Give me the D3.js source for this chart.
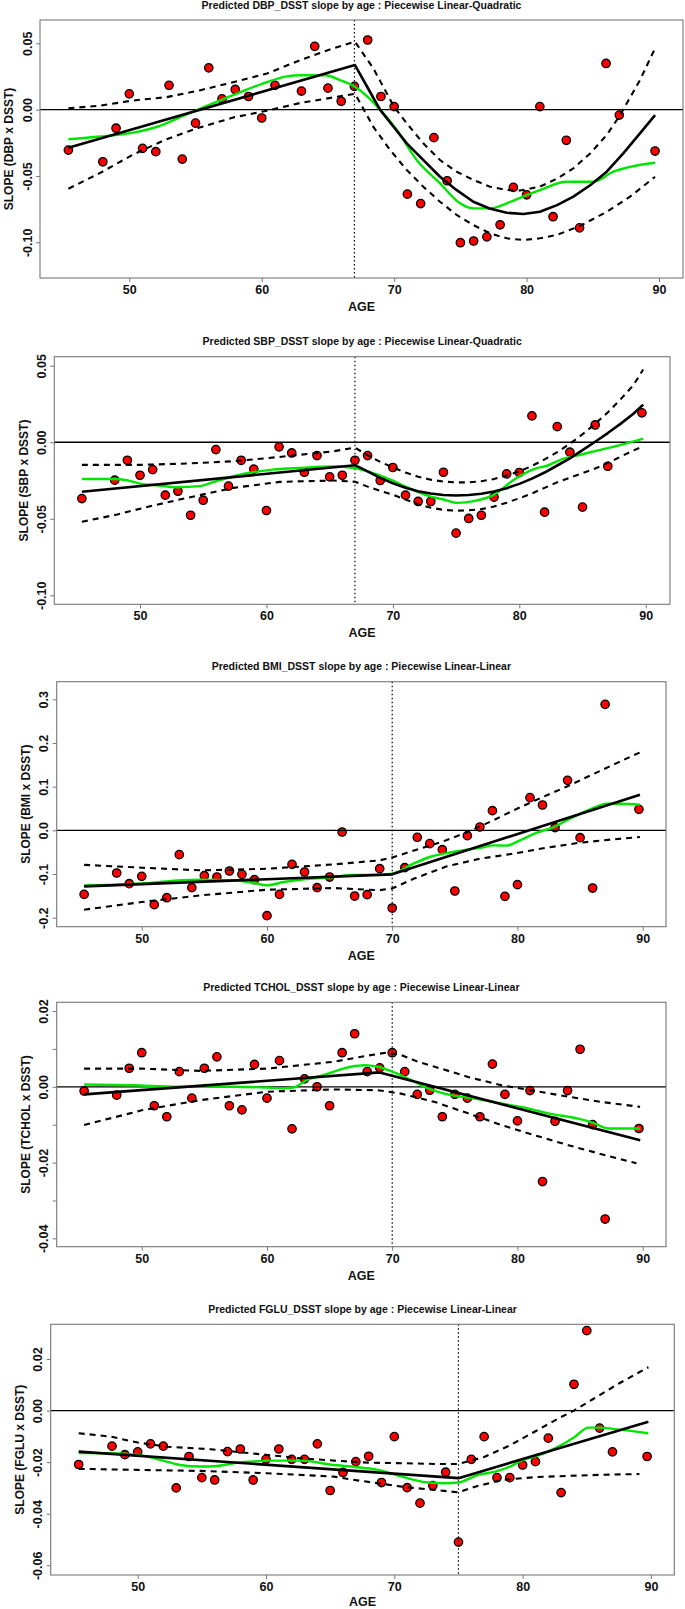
<!DOCTYPE html>
<html><head><meta charset="utf-8">
<script src="https://cdn.jsdelivr.net/npm/d3@7"></script>
<style>
body{margin:0;background:#fff}
svg{display:block}
text{font-family:"Liberation Sans",Arial,sans-serif;font-weight:bold;fill:#111}
</style>
</head><body>
<svg id="c" width="685" height="1609"></svg>
<script>
// ---------------- DATA ----------------
const AGES = [45.4,48,49,50,51,52,53,54,55,56,57,58,59,60,61,62,63,64,65,66,67,68,69,70,71,72,73,74,75,76,77,78,79,80,81,82,83,84,85,86,87,89.7];
const X_TICKS = [50,60,70,80,90];
const X_TICK_LABELS = ["50","60","70","80","90"];

// Panel 1: DBP
const dbpSlope = [-0.0305,-0.0393,-0.014,0.0119,-0.0292,-0.0317,0.0183,-0.0373,-0.0102,0.0315,0.0081,0.0152,0.0099,-0.0063,0.0183,null,0.014,0.0477,0.0162,0.0063,0.0175,0.0525,0.0099,0.0023,-0.0637,-0.0708,-0.0211,-0.0536,-0.1003,-0.099,-0.0959,-0.0868,-0.0586,-0.0642,0.0023,-0.0807,-0.0231,-0.0891,null,0.0348,-0.0041,-0.0312];
const dbpFit = [[45.4,-0.0287],[67.04,0.0336],[68,0.0165],[68.93,0.0],[70,-0.0135],[70.95,-0.0254],[72,-0.036],[73.46,-0.0506],[74.7,-0.0605],[75.98,-0.0694],[77.2,-0.0745],[78.5,-0.0777],[79.76,-0.0787],[81,-0.077],[82.3,-0.072],[83.53,-0.0656],[84.8,-0.057],[86.05,-0.0468],[87.3,-0.033],[88.56,-0.0179],[89.7,-0.0041]];
const dbpUpper = [[45.4,0.001],[47.8,0.003],[50.3,0.0069],[52.8,0.0094],[55.3,0.0145],[57.9,0.0208],[60.4,0.0272],[62.9,0.0373],[65.4,0.0462],[67.04,0.0512],[68.43,0.031],[70,0.002],[70.95,-0.0103],[72.2,-0.0254],[73.46,-0.038],[74.72,-0.0468],[75.98,-0.053],[77.24,-0.0581],[78.5,-0.0606],[79.5,-0.061],[81,-0.0581],[82.3,-0.052],[83.53,-0.0443],[84.8,-0.033],[86.05,-0.0191],[87.06,-0.0041],[88.56,0.0223],[89.7,0.0462]];
const dbpLower = [[45.4,-0.0596],[47.8,-0.0477],[50.3,-0.0338],[52.8,-0.0223],[55.3,-0.0135],[57.9,-0.0058],[60.4,-0.0008],[62.9,0.005],[65.4,0.0092],[67.04,0.012],[68.43,-0.013],[69.7,-0.0305],[70.95,-0.0455],[72.2,-0.0581],[73.46,-0.0694],[74.72,-0.0794],[75.98,-0.087],[77.24,-0.0932],[78.5,-0.097],[79.76,-0.0983],[81,-0.097],[82.27,-0.0945],[84.03,-0.0877],[86.05,-0.077],[87.81,-0.0656],[89.7,-0.0506]];
const dbpLoess = [[45.4,-0.0223],[47.8,-0.0203],[50.3,-0.0173],[52.1,-0.0129],[54.1,-0.0046],[55.3,0.0005],[56.85,0.0069],[58.4,0.0132],[60.4,0.0208],[61.9,0.0251],[62.9,0.0259],[64.8,0.0259],[65.9,0.0223],[67.04,0.0173],[68.0,0.0097],[68.93,0.0],[70.2,-0.0154],[71.7,-0.038],[73.46,-0.0556],[74.97,-0.0706],[75.98,-0.0744],[77.24,-0.0744],[78.5,-0.0706],[80.0,-0.0644],[81.01,-0.0606],[83.03,-0.0543],[85.04,-0.0543],[86.55,-0.0468],[89.7,-0.04]];
const dbpYTicks = [0.05,0,-0.05,-0.1];
const dbpYLabels = ["0.05","0.00","-0.05","-0.10"];

// Panel 2: SBP
const sbpSlope = [-0.0368,-0.0248,-0.0118,-0.0216,-0.0179,-0.0346,-0.032,-0.0477,-0.0379,-0.0048,-0.0287,-0.0118,-0.0176,-0.0446,-0.003,-0.007,-0.0196,-0.0087,-0.0226,-0.0216,-0.0118,-0.0087,-0.025,-0.0165,-0.0346,-0.0387,-0.0387,-0.0196,-0.0594,-0.0498,-0.0477,-0.0359,-0.0207,-0.0198,0.0172,-0.0457,0.0102,-0.0065,-0.0424,0.0113,-0.0157,0.0192];
const sbpFit = [[45.4,-0.0324],[67,-0.015],[68,-0.019],[69,-0.0233],[70,-0.0268],[71,-0.0298],[72,-0.032],[73,-0.0335],[74,-0.0345],[75,-0.0348],[76,-0.0345],[77,-0.0337],[78,-0.0322],[79,-0.03],[80,-0.0272],[81,-0.0238],[82,-0.0198],[83,-0.0152],[84,-0.0105],[85,-0.0052],[86,0.0003],[87,0.006],[88,0.012],[89,0.0185],[89.8,0.0246]];
const sbpUpper = [[45.4,-0.0148],[50,-0.0148],[53.7,-0.0139],[57.4,-0.0124],[61.05,-0.0096],[65.3,-0.0059],[67,-0.0035],[68,-0.0085],[69,-0.0128],[70,-0.0165],[71,-0.0198],[72,-0.0225],[73,-0.0245],[74,-0.0257],[75,-0.0262],[76,-0.0262],[77,-0.0255],[78,-0.024],[79,-0.0218],[80,-0.019],[81,-0.0155],[82,-0.0112],[83,-0.0065],[84,-0.001],[85,0.0052],[86,0.012],[87,0.0195],[88,0.028],[89,0.037],[89.8,0.0475]];
const sbpLower = [[45.4,-0.052],[48.2,-0.0472],[50.8,-0.0418],[53.7,-0.0364],[57.4,-0.0298],[61.05,-0.0259],[65.3,-0.025],[67,-0.0258],[68,-0.029],[69,-0.0318],[70,-0.0342],[71,-0.0375],[72,-0.0405],[73,-0.0428],[74,-0.0442],[75,-0.0447],[76,-0.0445],[77,-0.0437],[78,-0.042],[79,-0.0395],[80,-0.0366],[81,-0.0335],[82,-0.0298],[83,-0.0262],[84,-0.0232],[85,-0.0202],[86,-0.0172],[87,-0.0135],[88,-0.0095],[89,-0.0055],[89.8,-0.0026]];
const sbpLoess = [[45.4,-0.024],[47.9,-0.024],[48.95,-0.0248],[50,-0.027],[51.3,-0.0281],[52.9,-0.0294],[54.7,-0.0287],[55.8,-0.0261],[57.4,-0.0222],[58.9,-0.0196],[60.5,-0.0179],[62.6,-0.0168],[65.3,-0.0159],[66.92,-0.0168],[67.93,-0.0189],[70,-0.025],[71,-0.029],[73,-0.0355],[74.0,-0.0374],[75.1,-0.0396],[76.4,-0.0385],[78.0,-0.0342],[79.6,-0.0244],[81.2,-0.0174],[82.25,-0.0152],[83.3,-0.0113],[84.9,-0.008],[86.5,-0.0048],[88.1,-0.0015],[89.8,0.0024]];
const sbpYTicks = [0.05,0,-0.05,-0.1];
const sbpYLabels = ["0.05","0.00","-0.05","-0.10"];

// Panel 3: BMI
const bmiSlope = [-0.1466,-0.0977,-0.1221,-0.1053,-0.1702,-0.1542,-0.0557,-0.1313,-0.1038,-0.1069,-0.0931,-0.1008,-0.113,-0.1954,-0.1466,-0.0779,-0.0954,-0.1313,-0.1069,-0.0038,-0.1504,-0.1473,-0.0878,-0.1779,-0.0855,-0.016,-0.0305,-0.0443,-0.1389,-0.0122,0.0076,0.045,-0.1511,-0.1244,0.0748,0.058,0.0061,0.1145,-0.0168,-0.1321,0.2885,0.0481];
const bmiFit = [[45.4,-0.1282],[70,-0.1007],[89.78,0.0817]];
const bmiUpper = [[45.4,-0.079],[50,-0.0855],[54.7,-0.0916],[60,-0.088],[65.3,-0.078],[69,-0.0687],[70,-0.062],[72,-0.044],[74,-0.026],[76,-0.004],[78,0.022],[80,0.05],[82,0.076],[84,0.101],[86,0.128],[88,0.155],[89.75,0.178]];
const bmiLower = [[45.4,-0.1817],[50,-0.1641],[54.7,-0.1489],[60,-0.1359],[65.3,-0.1321],[69,-0.137],[70,-0.133],[71.7,-0.111],[74.35,-0.0825],[77,-0.065],[79.67,-0.0534],[82.33,-0.0397],[85,-0.0282],[87.65,-0.0206],[89.78,-0.0153]];
const bmiLoess = [[45.4,-0.126],[48,-0.1244],[50.67,-0.1206],[52.8,-0.1145],[54.67,-0.113],[57.33,-0.1145],[58.93,-0.1206],[60,-0.126],[61.33,-0.1183],[62.67,-0.113],[65.33,-0.1069],[66.67,-0.102],[68.5,-0.102],[70,-0.099],[71.7,-0.0763],[73.0,-0.061],[74.35,-0.052],[75.95,-0.0443],[77,-0.04],[78.1,-0.0343],[79.1,-0.035],[80.2,-0.0229],[81.5,-0.006],[82.9,0.0076],[84.2,0.0267],[85.6,0.0458],[87.2,0.061],[88.3,0.061],[89.78,0.0588]];
const bmiYTicks = [0.3,0.2,0.1,0,-0.1,-0.2];
const bmiYLabels = ["0.3","0.2","0.1","0.0","-0.1","-0.2"];

// Panel 4: TCHOL
const tcholSlope = [-0.0011,-0.0022,0.0049,0.009,-0.005,-0.0079,0.004,-0.003,0.0049,0.0079,-0.005,-0.0061,0.0059,-0.003,0.0069,-0.0111,0.0021,0.0,-0.005,0.009,0.014,0.004,0.005,0.009,0.004,-0.002,-0.0009,-0.0079,-0.002,-0.003,-0.0079,0.006,-0.002,-0.009,-0.001,-0.025,-0.0091,-0.001,0.0099,-0.01,-0.0349,-0.011];
const tcholFit = [[45.4,-0.002],[69,0.0038],[89.8,-0.0141]];
const tcholUpper = [[45.4,0.0048],[50,0.0048],[54.7,0.0042],[60,0.0048],[65.3,0.0066],[68,0.0082],[69.5,0.009],[70.72,0.0084],[72.05,0.0066],[73.39,0.0053],[76.05,0.0026],[78.72,0.0004],[81.39,-0.0011],[84.05,-0.0026],[86.72,-0.004],[89.79,-0.0053]];
const tcholLower = [[45.4,-0.0101],[50,-0.0062],[54.7,-0.0035],[60,-0.0013],[65.3,-0.0007],[68.85,-0.0009],[70.7,-0.0018],[73.4,-0.004],[76.05,-0.007],[78.72,-0.0101],[81.39,-0.0128],[84.05,-0.0154],[86.72,-0.0178],[89.5,-0.0202]];
const tcholLoess = [[45.4,0.0006],[49.3,0.0004],[52.8,0.0],[57.3,0.0],[60,-0.0002],[61.3,-0.0004],[62.1,-0.0002],[63.2,0.0018],[64.5,0.0031],[66.7,0.0053],[67.8,0.0057],[68.85,0.0053],[70,0.004],[71.5,0.0018],[72.85,-0.0004],[74.7,-0.0022],[76.6,-0.0031],[78.7,-0.0044],[80.85,-0.0057],[82.45,-0.007],[84.85,-0.0084],[86.05,-0.0095],[87.25,-0.011],[89.8,-0.011]];
const tcholYTicks = [0.02,0.01,0,-0.01,-0.02,-0.03,-0.04];
const tcholYLabels = ["0.02","","0.00","","-0.02","","-0.04"];

// Panel 5: FGLU
const fgluSlope = [-0.0209,-0.0138,-0.0171,-0.016,-0.0129,-0.0138,-0.03,-0.0178,-0.026,-0.0269,-0.0159,-0.0149,-0.0269,-0.0189,-0.0149,-0.0189,-0.0189,-0.0129,-0.031,-0.024,-0.0198,-0.0177,-0.0279,-0.0101,-0.0299,-0.0359,-0.0291,-0.0239,-0.051,-0.0189,-0.0101,-0.026,-0.026,-0.0211,-0.0198,-0.0107,-0.0318,0.0102,0.031,-0.0068,-0.016,-0.0178];
const fgluFit = [[45.4,-0.0159],[75,-0.0262],[89.8,-0.0043]];
const fgluUpper = [[45.4,-0.0088],[47.9,-0.0101],[50,-0.0124],[52.3,-0.014],[55.7,-0.015],[60.1,-0.0172],[62.7,-0.0185],[65.3,-0.0194],[68,-0.0202],[70.6,-0.0204],[73.2,-0.0207],[75,-0.0207],[77,-0.018],[79,-0.0135],[81,-0.008],[83,-0.0025],[84,0.0],[85.5,0.0045],[87.5,0.0105],[89.8,0.0168]];
const fgluLower = [[45.4,-0.0226],[50,-0.023],[54.9,-0.0234],[60.1,-0.0243],[65.3,-0.0256],[66.9,-0.0269],[70.6,-0.0295],[73.2,-0.0308],[75,-0.0317],[76.3,-0.0295],[78.4,-0.0269],[81,-0.0258],[83.6,-0.0253],[86.2,-0.0249],[89.1,-0.0246]];
const fgluLoess = [[45.4,-0.0165],[48,-0.0165],[50,-0.0172],[51.74,-0.0191],[53.3,-0.0211],[54.87,-0.0217],[56.17,-0.0215],[57.47,-0.0204],[58.78,-0.0198],[60.08,-0.0194],[62.68,-0.0194],[65.29,-0.0211],[66.59,-0.0217],[68.75,-0.023],[70.57,-0.0256],[72.65,-0.0279],[73.95,-0.0282],[74.99,-0.0279],[76.55,-0.0249],[77.84,-0.0237],[79.01,-0.0217],[80.05,-0.0191],[80.96,-0.0178],[82.0,-0.0159],[83.04,-0.0133],[84.08,-0.0101],[85.12,-0.0066],[85.9,-0.0066],[87.71,-0.0075],[89.79,-0.0088]];
const fgluYTicks = [0.02,0,-0.02,-0.04,-0.06];
const fgluYLabels = ["0.02","0.00","-0.02","-0.04","-0.06"];

// ---------------- LAYOUT ----------------
const PANELS = [
  {title:"Predicted DBP_DSST slope by age : Piecewise Linear-Quadratic", ylab:"SLOPE (DBP x DSST)",
   y:dbpSlope, fit:dbpFit, upper:dbpUpper, lower:dbpLower, loess:dbpLoess, knot:67, yTicks:dbpYTicks, yLabels:dbpYLabels,
   box:{l:40,t:20,r:683,b:278}, xDom:[43.256,91.81], yDom:[-0.1269,0.06756]},
  {title:"Predicted SBP_DSST slope by age : Piecewise Linear-Quadratic", ylab:"SLOPE (SBP x DSST)",
   y:sbpSlope, fit:sbpFit, upper:sbpUpper, lower:sbpLower, loess:sbpLoess, knot:67, yTicks:sbpYTicks, yLabels:sbpYLabels,
   box:{l:54.3,t:356.7,r:670,b:604.3}, xDom:[43.22,91.92], yDom:[-0.1059,0.0559]},
  {title:"Predicted BMI_DSST slope by age : Piecewise Linear-Linear", ylab:"SLOPE (BMI x DSST)",
   y:bmiSlope, fit:bmiFit, upper:bmiUpper, lower:bmiLower, loess:bmiLoess, knot:70, yTicks:bmiYTicks, yLabels:bmiYLabels,
   box:{l:56.7,t:681.7,r:666,b:926.7}, xDom:[43.21,91.86], yDom:[-0.2206,0.3403]},
  {title:"Predicted TCHOL_DSST slope by age : Piecewise Linear-Linear", ylab:"SLOPE (TCHOL x DSST)",
   y:tcholSlope, fit:tcholFit, upper:tcholUpper, lower:tcholLower, loess:tcholLoess, knot:70, yTicks:tcholYTicks, yLabels:tcholYLabels,
   box:{l:56.7,t:1002.3,r:666,b:1246.7}, xDom:[43.21,91.86], yDom:[-0.0422,0.0223]},
  {title:"Predicted FGLU_DSST slope by age : Piecewise Linear-Linear", ylab:"SLOPE (FGLU x DSST)",
   y:fgluSlope, fit:fgluFit, upper:fgluUpper, lower:fgluLower, loess:fgluLoess, knot:75, yTicks:fgluYTicks, yLabels:fgluYLabels,
   box:{l:50.7,t:1324.3,r:674.3,b:1575}, xDom:[43.22,91.82], yDom:[-0.06376,0.03346]}
];

const svg = d3.select("#c");
svg.append("rect").attr("width",685).attr("height",1609).attr("fill","#fff");

PANELS.forEach(p => {
  const B = p.box;
  const g = svg.append("g");
  const x = d3.scaleLinear().domain(p.xDom).range([B.l, B.r]);
  const y = d3.scaleLinear().domain(p.yDom).range([B.b, B.t]);
  const cx = (B.l + B.r) / 2, cy = (B.t + B.b) / 2;

  // title
  g.append("text").attr("x", cx).attr("y", Math.max(B.t - 15.5, 5.5)).attr("dy","0.36em")
    .attr("text-anchor","middle").attr("font-size","10.5px").text(p.title);

  // x axis
  const xa = g.append("g").attr("transform",`translate(0,${B.b})`)
    .call(d3.axisBottom(x).tickValues(X_TICKS).tickFormat((d,i)=>X_TICK_LABELS[i]).tickSize(4).tickPadding(3));
  xa.select(".domain").remove();
  xa.selectAll("line").attr("stroke","#777");
  xa.selectAll("text").attr("font-size","12.5px").attr("fill","#111")
    .attr("font-family","Liberation Sans, Arial, sans-serif").attr("font-weight","bold");

  // y axis
  const ya = g.append("g").attr("transform",`translate(${B.l},0)`)
    .call(d3.axisLeft(y).tickValues(p.yTicks).tickFormat((d,i)=>p.yLabels[i]).tickSize(4));
  ya.select(".domain").remove();
  ya.selectAll("line").attr("stroke","#777");
  ya.selectAll("text").attr("x",null).attr("dy","0.36em").attr("text-anchor","middle")
    .attr("transform","translate(-13,0) rotate(-90)")
    .attr("font-size","12.5px").attr("fill","#111")
    .attr("font-family","Liberation Sans, Arial, sans-serif").attr("font-weight","bold");

  // axis titles
  g.append("text").attr("x", cx).attr("y", Math.min(B.b + 28.3, 1601)).attr("dy","0.36em")
    .attr("text-anchor","middle").attr("font-size","12.5px").text("AGE");
  g.append("text").attr("transform",`translate(${B.l - 31},${cy}) rotate(-90)`).attr("dy","0.36em")
    .attr("text-anchor","middle").attr("font-size","12px").text(p.ylab);

  // points
  const pts = AGES.map((a,i)=>[a,p.y[i]]).filter(d=>d[1]!==null);
  g.append("g").selectAll("circle").data(pts).join("circle")
    .attr("cx", d=>x(d[0])).attr("cy", d=>y(d[1])).attr("r",4.2)
    .attr("fill","#ff0000").attr("stroke","#000").attr("stroke-width",1.3);

  // reference lines
  g.append("line").attr("x1",B.l).attr("x2",B.r).attr("y1",y(0)).attr("y2",y(0))
    .attr("stroke","#000").attr("stroke-width",1.3);
  g.append("line").attr("x1",x(p.knot)).attr("x2",x(p.knot)).attr("y1",B.t).attr("y2",B.b)
    .attr("stroke","#000").attr("stroke-width",1.2).attr("stroke-dasharray","1.5,2.5");

  const lin = d3.line().x(d=>x(d[0])).y(d=>y(d[1]));
  const smooth = d3.line().x(d=>x(d[0])).y(d=>y(d[1])).curve(d3.curveMonotoneX);

  g.append("path").attr("d", smooth(p.loess)).attr("fill","none")
    .attr("stroke","#00e600").attr("stroke-width",2.4).attr("stroke-linejoin","round");
  [p.upper, p.lower].forEach(band => {
    g.append("path").attr("d", lin(band)).attr("fill","none")
      .attr("stroke","#000").attr("stroke-width",2.1).attr("stroke-dasharray","6,5");
  });
  g.append("path").attr("d", lin(p.fit)).attr("fill","none")
    .attr("stroke","#000").attr("stroke-width",2.6).attr("stroke-linejoin","round");

  // box
  g.append("rect").attr("x",B.l).attr("y",B.t).attr("width",B.r-B.l).attr("height",B.b-B.t)
    .attr("fill","none").attr("stroke","#777").attr("stroke-width",1.1);
});
</script>
</body></html>
